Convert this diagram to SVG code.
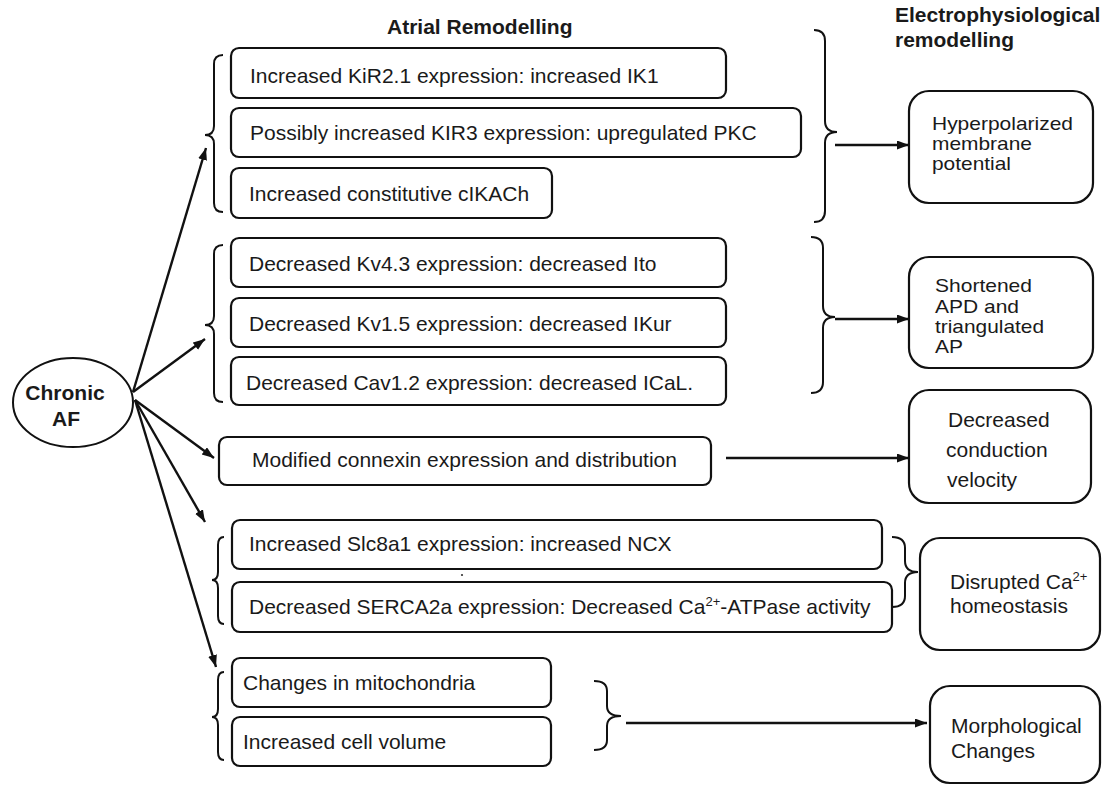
<svg xmlns="http://www.w3.org/2000/svg" width="1105" height="785" viewBox="0 0 1105 785">
<defs>
<marker id="ah" markerUnits="userSpaceOnUse" markerWidth="13" markerHeight="10" refX="12" refY="4.5" orient="auto">
<path d="M0,0 L12,4.5 L0,9 z" fill="#111"/>
</marker>
<style>
.box{fill:#fff;stroke:#111;stroke-width:2.2}
.brace{fill:none;stroke:#111;stroke-width:2}
.con{fill:none;stroke:#111;stroke-width:2.4;marker-end:url(#ah)}
text{font-family:"Liberation Sans",Arial,sans-serif;fill:#1a1a1a}
.t{font-size:21px}
.s{font-size:19px}
.h{font-size:21px;font-weight:bold}
.sup{font-size:13px}
</style>
</defs>
<rect width="1105" height="785" fill="#fff"/>

<g id="titles">
<text class="h" x="387" y="34">Atrial Remodelling</text>
<text class="h" x="895" y="22">Electrophysiological<tspan x="895" dy="25">remodelling</tspan></text>
</g>

<g id="chronic-af">
<ellipse cx="73" cy="402.5" rx="60" ry="44.5" fill="#fff" stroke="#111" stroke-width="2"/>
<text class="h" x="65" y="400" text-anchor="middle">Chronic<tspan x="66" dy="26">AF</tspan></text>
</g>

<g id="connectors">
<line class="con" x1="133" y1="392" x2="206" y2="148"/>
<line class="con" x1="133" y1="392" x2="205" y2="339"/>
<line class="con" x1="135" y1="400" x2="214" y2="458"/>
<line class="con" x1="135" y1="400" x2="205" y2="522"/>
<line class="con" x1="135" y1="400" x2="216" y2="667"/>
<line class="con" x1="835" y1="145" x2="909" y2="145"/>
<line class="con" x1="835" y1="319" x2="909" y2="319"/>
<line class="con" x1="726" y1="458" x2="909" y2="458"/>
<line class="con" x1="626" y1="723" x2="927" y2="723"/>
</g>

<g id="braces">
<path class="brace" d="M223,55 Q214,55 214,64 L214,126 Q214,135 205,135 Q214,135 214,144 L214,203 Q214,212 223,212"/>
<path class="brace" d="M223,245 Q214,245 214,254 L214,316 Q214,325 205,325 Q214,325 214,334 L214,393 Q214,402 223,402"/>
<path class="brace" d="M224,537 Q218,537 218,545 L218,572 Q218,580 212,580 Q218,580 218,588 L218,616 Q218,624 224,624"/>
<path class="brace" d="M224,672 Q218,672 218,680 L218,709 Q218,717 212,717 Q218,717 218,725 L218,752 Q218,760 224,760"/>
<path class="brace" d="M814,30 Q825,30 825,41 L825,121 Q825,132 837,132 Q825,132 825,143 L825,211 Q825,222 814,222"/>
<path class="brace" d="M811,237 Q823,237 823,248 L823,306 Q823,317 835,317 Q823,317 823,328 L823,382 Q823,393 811,393"/>
<path class="brace" d="M892,537 Q905,537 905,548 L905,561 Q905,572 918,572 Q905,572 905,583 L905,596 Q905,607 892,607"/>
<path class="brace" d="M594,681 Q607,681 607,691 L607,706 Q607,716 621,716 Q607,716 607,726 L607,740 Q607,750 594,750"/>
</g>

<g id="kir21">
<rect class="box" x="231" y="48" width="495" height="50" rx="8"/>
<text class="t" x="250" y="83">Increased KiR2.1 expression: increased IK1</text>
</g>
<g id="kir3">
<rect class="box" x="231" y="108" width="570" height="49" rx="8"/>
<text class="t" x="250" y="140">Possibly increased KIR3 expression: upregulated PKC</text>
</g>
<g id="cikach">
<rect class="box" x="231" y="168" width="321" height="50" rx="8"/>
<text class="t" x="249" y="201">Increased constitutive cIKACh</text>
</g>
<g id="kv43">
<rect class="box" x="231" y="238" width="495" height="49" rx="8"/>
<text class="t" x="249" y="271">Decreased Kv4.3 expression: decreased Ito</text>
</g>
<g id="kv15">
<rect class="box" x="231" y="298" width="495" height="49" rx="8"/>
<text class="t" x="249" y="331">Decreased Kv1.5 expression: decreased IKur</text>
</g>
<g id="cav12">
<rect class="box" x="231" y="357" width="495" height="48" rx="8"/>
<text class="t" x="246" y="390">Decreased Cav1.2 expression: decreased ICaL.</text>
</g>
<g id="connexin">
<rect class="box" x="219" y="437" width="492" height="48" rx="8"/>
<text class="t" x="252" y="467">Modified connexin expression and distribution</text>
</g>
<g id="slc8a1">
<rect class="box" x="232" y="520" width="650" height="49" rx="8"/>
<text class="t" x="249" y="551">Increased Slc8a1 expression: increased NCX</text>
</g>
<circle cx="462" cy="575" r="1.1" fill="#333"/>
<g id="serca2a">
<rect class="box" x="232" y="582" width="660" height="50" rx="8"/>
<text class="t" x="249" y="614">Decreased SERCA2a expression: Decreased Ca<tspan class="sup" dy="-8">2+</tspan><tspan dy="8">-ATPase activity</tspan></text>
</g>
<g id="mito">
<rect class="box" x="232" y="658" width="319" height="49" rx="8"/>
<text class="t" x="243" y="690">Changes in mitochondria</text>
</g>
<g id="cellvol">
<rect class="box" x="232" y="717" width="319" height="49" rx="8"/>
<text class="t" x="243" y="749">Increased cell volume</text>
</g>

<g id="hyperpolarized">
<rect class="box" x="909" y="91" width="184" height="112" rx="20"/>
<text class="s" x="932" y="130"><tspan textLength="141" lengthAdjust="spacingAndGlyphs">Hyperpolarized</tspan><tspan x="932" dy="20" textLength="100" lengthAdjust="spacingAndGlyphs">membrane</tspan><tspan x="932" dy="20" textLength="79" lengthAdjust="spacingAndGlyphs">potential</tspan></text>
</g>
<g id="shortened">
<rect class="box" x="909" y="257" width="184" height="111" rx="20"/>
<text class="s" x="935" y="292"><tspan textLength="97" lengthAdjust="spacingAndGlyphs">Shortened</tspan><tspan x="935" dy="21" textLength="84" lengthAdjust="spacingAndGlyphs">APD and</tspan><tspan x="935" dy="20" textLength="109" lengthAdjust="spacingAndGlyphs">triangulated</tspan><tspan x="935" dy="20" textLength="28" lengthAdjust="spacingAndGlyphs">AP</tspan></text>
</g>
<g id="conduction">
<rect class="box" x="909" y="390" width="182" height="113" rx="20"/>
<text class="t" x="948" y="427">Decreased<tspan x="946" dy="30">conduction</tspan><tspan x="947" dy="30">velocity</tspan></text>
</g>
<g id="calcium">
<rect class="box" x="920" y="538" width="180" height="112" rx="20"/>
<text class="t" x="950" y="589">Disrupted Ca<tspan class="sup" dy="-8">2+</tspan><tspan x="950" dy="32">homeostasis</tspan></text>
</g>
<g id="morphological">
<rect class="box" x="930" y="686" width="170" height="97" rx="20"/>
<text class="t" x="951" y="733">Morphological<tspan x="951" dy="25">Changes</tspan></text>
</g>
</svg>
